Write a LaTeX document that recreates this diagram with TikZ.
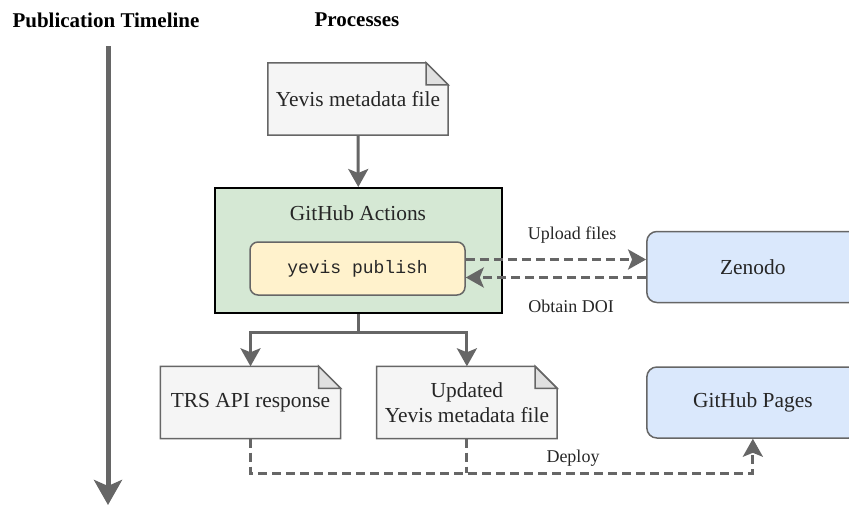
\documentclass[tikz,border=0pt]{standalone}
\usepackage{fontspec}
\setmainfont{Liberation Serif}
\setmonofont{Liberation Mono}
\usetikzlibrary{arrows.meta,positioning,backgrounds}
\definecolor{linegray}{HTML}{666666}
\definecolor{notefill}{HTML}{F5F5F5}
\definecolor{foldfill}{HTML}{E0E0E0}
\definecolor{actfill}{HTML}{D5E8D4}
\definecolor{cmdfill}{HTML}{FFF2CC}
\definecolor{svcfill}{HTML}{DAE8FC}
\newcommand{\bigtxt}{\fontsize{21.4}{24.5}\selectfont}
\newcommand{\smalltxt}{\fontsize{18}{21}\selectfont}
\tikzstyle{heading}=[font=\fontsize{21}{24}\selectfont\bfseries]
\tikzstyle{note}=[minimum width = 180pt, minimum height = 72pt, inner sep = 2pt, align = center, font = \bigtxt, text = black!85]
\tikzstyle{notefold}=[draw = linegray, line width = 1.5pt]
\tikzstyle{act}=[draw = black, line width = 2pt, fill = actfill, minimum width = 287pt, minimum height = 125pt]
\tikzstyle{cmd}=[draw = linegray, line width = 1.5pt, fill = cmdfill, rounded corners = 8pt, minimum width = 215pt, minimum height = 53pt, font = \smalltxt\ttfamily, text = black!85]
\tikzstyle{svc}=[draw = linegray, line width = 1.5pt, fill = svcfill, rounded corners = 10pt, minimum width = 212pt, minimum height = 71pt, font = \bigtxt, text = black!85]
\tikzstyle{tag}=[font = \smalltxt, text = black!85]
\tikzstyle{flow}=[draw = linegray, line width = 3pt, -{Stealth[length = 18pt, width = 20pt, inset = 4pt]}]
\tikzstyle{dflow}=[flow, dash pattern = on 9pt off 5pt]
\tikzstyle{timeline}=[draw = linegray, line width = 5pt, -{Stealth[length = 25pt, width = 28pt, inset = 6pt]}]
\newcommand{\notepaper}[1]{%
  \draw[notefold, fill = notefill] (#1.north west) -- ([xshift = -22pt]#1.north east) -- ([yshift = -22pt]#1.north east) -- (#1.south east) -- (#1.south west) -- cycle;
  \draw[notefold, fill = foldfill] ([xshift = -22pt]#1.north east) -- ([xshift = -22pt, yshift = -22pt]#1.north east) -- ([yshift = -22pt]#1.north east) -- cycle;}
\begin{document}
\begin{tikzpicture}[x = 1pt, y = -1pt]
  \useasboundingbox (0,0) rectangle (849,506);
  \node[heading] (tl-title) at (106,20) {Publication Timeline};
  \node[heading] (proc-title) at (357,20) {Processes};
  \coordinate (tl-top) at (108,46);
  \coordinate (tl-end) at (108,505);
  \draw[timeline] (tl-top) -- (tl-end);

  \node[note] (meta) at (358,99) {Yevis metadata file};
  \node[act] (gha) at (358.5,250.5) {};
  \node[font = \bigtxt, text = black!85] (gha-title) at (358,213) {GitHub Actions};
  \node[cmd] (cmd) at (357.5,268.5) {yevis publish};
  \node[note] (trs) at (250.5,402.5) {TRS API response};
  \node[note, right = 36pt of trs] (upd) {Updated\\Yevis metadata file};
  \node[svc, right = 89pt of upd] (pages) {GitHub Pages};
  \node[svc, above = 63pt of pages] (zen) {Zenodo};
  \begin{pgfonlayer}{background}
    \notepaper{meta}
    \notepaper{trs}
    \notepaper{upd}
  \end{pgfonlayer}

  \draw[flow] (meta) -- (gha);
  \draw[dflow] ([yshift = 9pt]cmd.east) -- ([yshift = 9pt]cmd.east -| zen.west);
  \draw[dflow] ([yshift = -9pt]cmd.east -| zen.west) -- ([yshift = -9pt]cmd.east);
  \node[tag] (up-tag) at (572,235) {Upload files};
  \node[tag] (doi-tag) at (571,306) {Obtain DOI};

  \draw[flow] (gha.south) -- ++(0,18) -| (trs.north);
  \draw[flow] (gha.south) -- ++(0,18) -| (upd.north);

  \coordinate (bus) at (0,473);
  \draw[dflow] (trs.south) -- (trs.south |- bus) -| (pages.south);
  \draw[draw = linegray, line width = 3pt, dash pattern = on 9pt off 5pt] (upd.south) -- (upd.south |- bus);
  \node[tag] (dep-tag) at (573,458) {Deploy};
\end{tikzpicture}
\end{document}
